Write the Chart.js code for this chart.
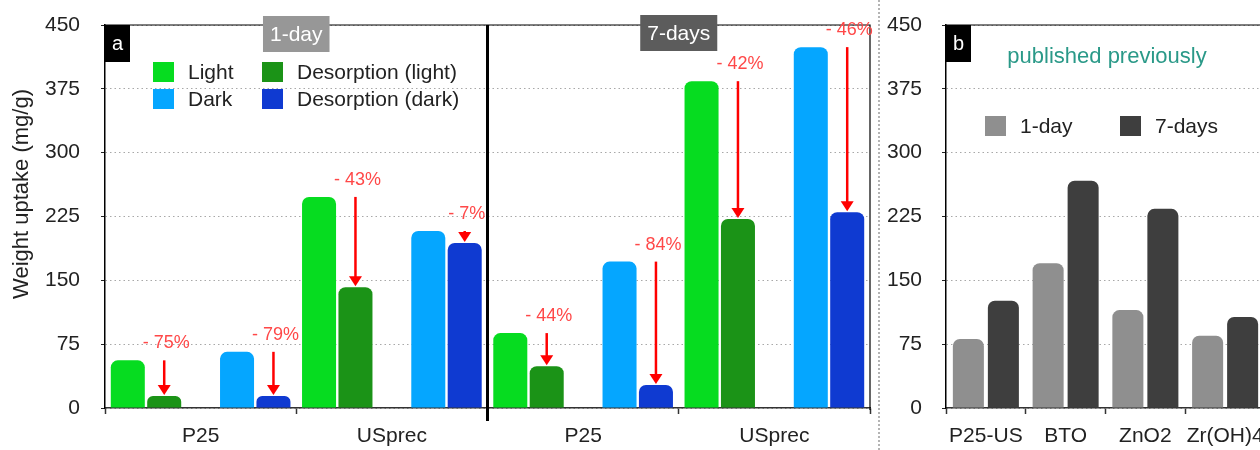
<!DOCTYPE html>
<html lang="en">
<head>
<meta charset="UTF-8">
<title>Weight uptake</title>
<script src="https://cdn.jsdelivr.net/npm/chart.js"></script>
<style>
  html, body { margin: 0; padding: 0; background: #fff; overflow: hidden; }
  #wrapA { position: absolute; left: 0; top: 0; width: 884px; height: 450px; }
  #wrapB { position: absolute; left: 884px; top: 0; width: 400px; height: 450px; }
</style>
</head>
<body>
<div id="wrapA"><canvas id="chartA"></canvas></div>
<div id="wrapB"><canvas id="chartB"></canvas></div>

<script>
// panel a: 1-day groups first, then 7-days groups
const groups = ['P25', 'USprec', 'P25', 'USprec'];
const periods = ['1-day', '7-days'];
const light = [56, 248, 88, 384];
const desorptionLight = [14, 142, 49, 222];
const dark = [66, 208, 172, 424];
const desorptionDark = [14, 194, 27, 230];
const dropLight = ['- 75%', '- 43%', '- 44%', '- 42%'];
const dropDark = ['- 79%', '- 7%', '- 84%', '- 46%'];

// panel b: earlier results
const materials = ['P25-US', 'BTO', 'ZnO2', 'Zr(OH)4'];
const oneDay = [81, 170, 115, 85];
const sevenDays = [126, 267, 234, 107];

const yTicks = [0, 75, 150, 225, 300, 375, 450];

const FONT = '"Helvetica Neue", Helvetica, Arial, "Liberation Sans", sans-serif';
Chart.defaults.font.family = FONT;
Chart.defaults.color = '#222';

function yAxis(width, pad) {
    return {
        min: 0, max: 450,
        afterBuildTicks: s => { s.ticks = yTicks.map(v => ({ value: v })); },
        afterFit: s => {
            s.width = width;
            // keep the tick padding from pushing the plot top down
            s.paddingTop = 12;
            s.paddingBottom = 12;
        },
        ticks: { font: { size: 21 }, padding: pad, color: '#222' },
        grid: { color: '#a8a8a8', lineWidth: 1, tickLength: 4, tickColor: '#222', tickBorderDash: [] },
        border: { color: '#000', width: 1.5, dash: [1.5, 3] }
    };
}

function xAxis() {
    return {
        afterFit: s => { s.height = 42; },
        ticks: { font: { size: 21 }, padding: 10, color: '#222', maxRotation: 0, minRotation: 0, autoSkip: false },
        grid: { drawOnChartArea: false, tickLength: 6, tickColor: '#333', tickWidth: 1.5 },
        border: { color: '#333', width: 1.5 }
    };
}

function tagBox(ctx, text, cx, top, h, bg, size) {
    ctx.font = size + 'px ' + FONT;
    const w = ctx.measureText(text).width + 14;
    ctx.fillStyle = bg;
    ctx.fillRect(cx - w / 2, top, w, h);
    ctx.fillStyle = '#fff';
    ctx.textAlign = 'center';
    ctx.textBaseline = 'middle';
    ctx.fillText(text, cx, top + h / 2 + 1);
}

function letterBox(ctx, text, left, top) {
    ctx.fillStyle = '#000';
    ctx.fillRect(left, top, 25, 37);
    ctx.fillStyle = '#fff';
    ctx.font = '20px ' + FONT;
    ctx.textAlign = 'center';
    ctx.textBaseline = 'middle';
    ctx.fillText(text, left + 12.5, top + 19);
}

function legendItem(ctx, color, text, x, y, size) {
    ctx.fillStyle = color;
    ctx.fillRect(x, y, 21, 20);
    ctx.fillStyle = '#222';
    ctx.font = size + 'px ' + FONT;
    ctx.textAlign = 'left';
    ctx.textBaseline = 'middle';
    ctx.fillText(text, x + 35, y + 11);
}

function dropArrow(ctx, px, y0, y1, text) {
    ctx.strokeStyle = '#ff0000';
    ctx.fillStyle = '#ff0000';
    ctx.lineWidth = 2.5;
    ctx.beginPath();
    ctx.moveTo(px, y0);
    ctx.lineTo(px, y1 - 9);
    ctx.stroke();
    ctx.beginPath();
    ctx.moveTo(px - 6.5, y1 - 11);
    ctx.lineTo(px + 6.5, y1 - 11);
    ctx.lineTo(px, y1 - 1);
    ctx.closePath();
    ctx.fill();
    ctx.fillStyle = '#ff4848';
    ctx.font = '18px ' + FONT;
    ctx.textAlign = 'center';
    ctx.textBaseline = 'alphabetic';
    ctx.fillText(text, px + 2, y0 - 12);
}

const decorA = {
    id: 'decorA',
    afterDraw(chart) {
        const { ctx, chartArea: a, scales: { x, y } } = chart;
        ctx.save();

        // frame top and right
        ctx.strokeStyle = '#000';
        ctx.lineWidth = 1.2;
        ctx.beginPath();
        ctx.moveTo(a.left, a.top);
        ctx.lineTo(a.right, a.top);
        ctx.lineTo(a.right, a.bottom + 2);
        ctx.stroke();

        // heavy line between 1-day and 7-days
        const mid = (x.getPixelForValue(1) + x.getPixelForValue(2)) / 2;
        ctx.lineWidth = 3;
        ctx.beginPath();
        ctx.moveTo(mid, a.top);
        ctx.lineTo(mid, a.bottom + 13);
        ctx.stroke();

        // dotted separator to panel b
        ctx.strokeStyle = '#b4b4b4';
        ctx.lineWidth = 2;
        ctx.setLineDash([2, 2]);
        ctx.beginPath();
        ctx.moveTo(879, 0);
        ctx.lineTo(879, chart.height);
        ctx.stroke();
        ctx.setLineDash([]);

        // desorption drops
        const mL = chart.getDatasetMeta(1), mD = chart.getDatasetMeta(4);
        groups.forEach((g, i) => {
            dropArrow(ctx, mL.data[i].x, y.getPixelForValue(light[i]), mL.data[i].y, dropLight[i]);
            dropArrow(ctx, mD.data[i].x, y.getPixelForValue(dark[i]), mD.data[i].y, dropDark[i]);
        });

        // period tags
        tagBox(ctx, periods[0], (x.getPixelForValue(0) + x.getPixelForValue(1)) / 2, 16, 36, '#979797', 21);
        tagBox(ctx, periods[1], (x.getPixelForValue(2) + x.getPixelForValue(3)) / 2, 15, 36, '#5c5c5c', 21);

        letterBox(ctx, 'a', a.left, a.top);

        // legend
        const items = [0, 1, 3, 4];
        items.forEach((d, k) => {
            const ds = chart.data.datasets[d];
            legendItem(ctx, ds.backgroundColor, ds.label,
                a.left + [48, 157][k % 2], a.top + [37, 64][Math.floor(k / 2)], 21);
        });

        // y title
        ctx.translate(22, 194);
        ctx.rotate(-Math.PI / 2);
        ctx.fillStyle = '#222';
        ctx.font = '22px ' + FONT;
        ctx.textAlign = 'center';
        ctx.textBaseline = 'middle';
        ctx.fillText('Weight uptake (mg/g)', 0, 0);
        ctx.restore();
    }
};

const decorB = {
    id: 'decorB',
    afterDraw(chart) {
        const { ctx, chartArea: a } = chart;
        ctx.save();
        ctx.strokeStyle = '#000';
        ctx.lineWidth = 1.2;
        ctx.beginPath();
        ctx.moveTo(a.left, a.top);
        ctx.lineTo(chart.width, a.top);
        ctx.stroke();

        letterBox(ctx, 'b', a.left, a.top);

        ctx.fillStyle = '#2a9988';
        ctx.font = '22px ' + FONT;
        ctx.textAlign = 'center';
        ctx.textBaseline = 'alphabetic';
        ctx.fillText('published previously', a.left + 161, a.top + 38);

        const ds = chart.data.datasets;
        legendItem(ctx, ds[0].backgroundColor, ds[0].label, a.left + 39, a.top + 91, 21);
        legendItem(ctx, ds[1].backgroundColor, ds[1].label, a.left + 174, a.top + 91, 21);
        ctx.restore();
    }
};

const common = {
    responsive: true,
    maintainAspectRatio: false,
    animation: false,
    plugins: { legend: { display: false }, tooltip: { enabled: false } }
};

const rounded = { topLeft: 7, topRight: 7, bottomLeft: 0, bottomRight: 0 };

new Chart(document.getElementById('chartA'), {
    type: 'bar',
    data: {
        labels: groups,
        datasets: [
            { label: 'Light', data: light, backgroundColor: '#06dc20', borderRadius: rounded },
            { label: 'Desorption (light)', data: desorptionLight, backgroundColor: '#1b9317', borderRadius: rounded },
            { label: '', data: [null, null, null, null] },   // gap between light and dark pairs
            { label: 'Dark', data: dark, backgroundColor: '#05a6ff', borderRadius: rounded },
            { label: 'Desorption (dark)', data: desorptionDark, backgroundColor: '#0f3ad1', borderRadius: rounded }
        ]
    },
    options: {
        ...common,
        layout: { padding: { left: 0, right: 14, top: 25, bottom: 0 } },
        datasets: { bar: { categoryPercentage: 0.952, barPercentage: 0.934 } },
        scales: { x: xAxis(), y: yAxis(105, 21) }
    },
    plugins: [decorA]
});

new Chart(document.getElementById('chartB'), {
    type: 'bar',
    data: {
        labels: materials,
        datasets: [
            { label: '1-day', data: oneDay, backgroundColor: '#8f8f8f', borderRadius: rounded },
            { label: '7-days', data: sevenDays, backgroundColor: '#3e3e3e', borderRadius: rounded }
        ]
    },
    options: {
        ...common,
        layout: { padding: { left: 0, right: 19, top: 25, bottom: 0 } },
        datasets: { bar: { categoryPercentage: 0.878, barPercentage: 0.886 } },
        scales: { x: xAxis(), y: yAxis(62, 20) }
    },
    plugins: [decorB]
});
</script>
</body>
</html>
